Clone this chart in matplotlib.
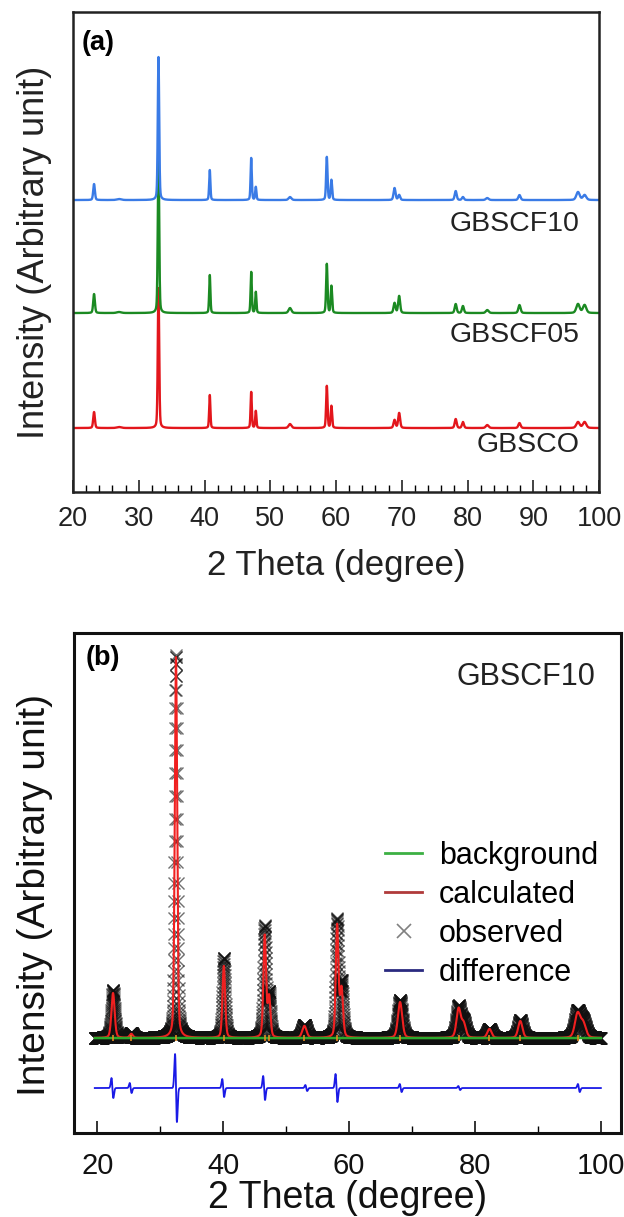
import numpy as np
import matplotlib.pyplot as plt
from matplotlib.lines import Line2D

plt.rcParams["font.family"] = ["Liberation Sans", "DejaVu Sans"]

# ---- panel (a): XRD patterns, peak table ----
peak_pos_a = [23.2, 27.0, 33.0, 40.8, 47.1, 47.8, 53.0, 58.6, 59.3,
              68.9, 69.6, 78.2, 79.3, 83.0, 87.9, 96.8, 97.8]
peak_fwhm_a = [0.3, 0.8, 0.25, 0.22, 0.22, 0.22, 0.5, 0.25, 0.25,
               0.35, 0.35, 0.35, 0.35, 0.5, 0.4, 0.6, 0.6]
gbsco_heights = [16, 1, 140, 33, 36, 17, 4, 42, 22, 8, 15, 9, 6, 3, 5, 6, 6]
gbscf05_heights = [19, 1, 160, 38, 41, 21, 5, 49, 27, 10, 17, 9, 7, 3, 8, 9, 8]
gbscf10_heights = [16, 1, 143, 30, 42, 13, 3, 43, 20, 12, 5, 9, 3, 2, 5, 8, 5]

sample_names = ["GBSCO", "GBSCF05", "GBSCF10"]
sample_heights = [gbsco_heights, gbscf05_heights, gbscf10_heights]
sample_offsets = [64, 179, 292]
sample_label_y = [47, 157, 268]
sample_colors = ["#e3161c", "#1b8a22", "#3a7be6"]

# ---- panel (b): Rietveld refinement of GBSCF10 ----
peak_pos_b = [22.5, 25.4, 32.5, 40.1, 46.6, 47.3, 52.9, 58.1, 58.8,
              68.1, 77.4, 78.2, 82.3, 87.2, 96.3, 97.2]
peak_fwhm_b = [0.6, 0.6, 0.45, 0.5, 0.5, 0.5, 0.8, 0.5, 0.55,
               0.8, 0.8, 0.8, 0.8, 0.8, 1.0, 1.0]
calc_heights_b = [45, 4, 381, 72, 102, 40, 12, 112, 48, 36, 29, 14, 9, 17, 24, 14]
obs_heights_b = [48, 5, 383, 80, 111, 43, 13, 117, 54, 38, 31, 15, 9, 18, 26, 15]
bragg_pos_b = [22.5, 25.4, 32.5, 40.1, 46.6, 47.3, 52.9, 58.1, 68.1, 77.4, 82.3, 87.2, 96.3]
background_level = 95
diff_level = 45
diff_pos = [22.4, 25.3, 32.5, 40.0, 46.5, 53.2, 58.0, 68.2, 77.5, 96.5]
diff_amp = [10, 5, 34, 9, 12, 3, 14, 4, 2, 4]


def pattern(x, pos, fwhm, heights, eta=0.3):
    y = np.zeros_like(x)
    for p, w, h in zip(pos, fwhm, heights):
        u = (x - p) / (w / 2)
        y += h * (eta / (1 + u ** 2) + (1 - eta) * np.exp(-np.log(2) * u ** 2))
    return y


def diff_pattern(x, pos, amp, width=0.15):
    y = np.zeros_like(x)
    for p, a in zip(pos, amp):
        u = (x - p) / width
        y += -a * u * np.exp(0.5 - u ** 2 / 2)
    return y


fig = plt.figure(figsize=(6.24, 12.17), dpi=100)

# panel (a)
ax1 = fig.add_axes([0.117, 0.5957, 0.843, 0.3944])
x_a = np.linspace(20, 100, 8001)
for h, off, c in zip(sample_heights, sample_offsets, sample_colors):
    ax1.plot(x_a, off + pattern(x_a, peak_pos_a, peak_fwhm_a, h), color=c, lw=1.7)
for name, y in zip(sample_names, sample_label_y):
    ax1.text(97.0, y, name, fontsize=20.5, color="#222222", ha="right", va="center")
ax1.set_xlim(20, 100)
ax1.set_ylim(0, 480)
ax1.set_xticks(range(20, 101, 10))
ax1.set_xticks(range(20, 101, 2), minor=True)
ax1.set_yticks([])
ax1.tick_params(axis="x", which="major", direction="in", length=9, width=1.2,
                labelsize=19.5, pad=10, colors="#222222")
ax1.tick_params(axis="x", which="minor", direction="in", length=5, width=1.0)
for s in ax1.spines.values():
    s.set_linewidth(1.8)
    s.set_color("#222222")
ax1.set_xlabel("2 Theta (degree)", fontsize=25, labelpad=12, color="#222222")
ax1.text(0.017, 0.962, "(a)", transform=ax1.transAxes, fontsize=19.5,
         fontweight="bold", va="top", ha="left")
fig.text(35 / 624, 1 - 252 / 1217, "Intensity (Arbitrary unit)", rotation=90,
         fontsize=26, ha="center", va="center", color="#222222")

# panel (b)
ax2 = fig.add_axes([0.1186, 0.069, 0.8766, 0.4108])
x_obs = np.arange(19.6, 100.0, 0.02)
x_fit = np.linspace(19.6, 100, 8001)
obs = background_level + pattern(x_obs, peak_pos_b, peak_fwhm_b, obs_heights_b)
calc = background_level + pattern(x_fit, peak_pos_b, peak_fwhm_b, calc_heights_b)
diff = diff_level + diff_pattern(x_fit, diff_pos, diff_amp)

ax2.plot(x_obs, obs, ls="none", marker="x", ms=8, mew=1.0, color="#101010",
         alpha=0.6, zorder=1)
ax2.plot(x_fit, calc, color="#f02020", lw=1.5, zorder=2)
ax2.plot(x_fit, np.full_like(x_fit, background_level), color="#2ca82c", lw=1.8, zorder=3)
ax2.plot(bragg_pos_b, [background_level] * len(bragg_pos_b), ls="none", marker="|",
         ms=5, mew=1.2, color="#e08a20", zorder=4)
ax2.plot(x_fit, diff, color="#1a1ae6", lw=1.3, zorder=3)

ax2.set_xlim(16.3, 103.2)
ax2.set_ylim(0, 500)
ax2.set_xticks(range(20, 101, 20))
ax2.set_xticks(range(30, 100, 20), minor=True)
ax2.set_yticks([])
ax2.tick_params(axis="x", which="major", direction="in", length=9, width=1.2,
                labelsize=21, pad=14, colors="#111111")
ax2.tick_params(axis="x", which="minor", direction="in", length=5, width=1.0)
for s in ax2.spines.values():
    s.set_linewidth(2.2)
    s.set_color("#111111")
ax2.set_xlabel("2 Theta (degree)", fontsize=27, labelpad=0, color="#111111")
ax2.text(0.022, 0.976, "(b)", transform=ax2.transAxes, fontsize=19.5,
         fontweight="bold", va="top", ha="left")
ax2.text(0.954, 0.912, "GBSCF10", transform=ax2.transAxes, fontsize=22,
         ha="right", va="center", color="#222222")
fig.text(35 / 624, 1 - 895 / 1217, "Intensity (Arbitrary unit)", rotation=90,
         fontsize=28, ha="center", va="center", color="#111111")

handles = [
    Line2D([], [], color="#3cb043", lw=2),
    Line2D([], [], color="#b03a3a", lw=2),
    Line2D([], [], color="#808080", ls="none", marker="x", ms=10, mew=1.2),
    Line2D([], [], color="#2a2a80", lw=2),
]
ax2.legend(handles, ["background", "calculated", "observed", "difference"],
           loc="upper left", bbox_to_anchor=(0.569, 0.585), frameon=False,
           fontsize=22, handlelength=1.2, handletextpad=0.55, labelspacing=0.3,
           borderpad=0, borderaxespad=0)

fig.savefig("out.png", dpi=100)
